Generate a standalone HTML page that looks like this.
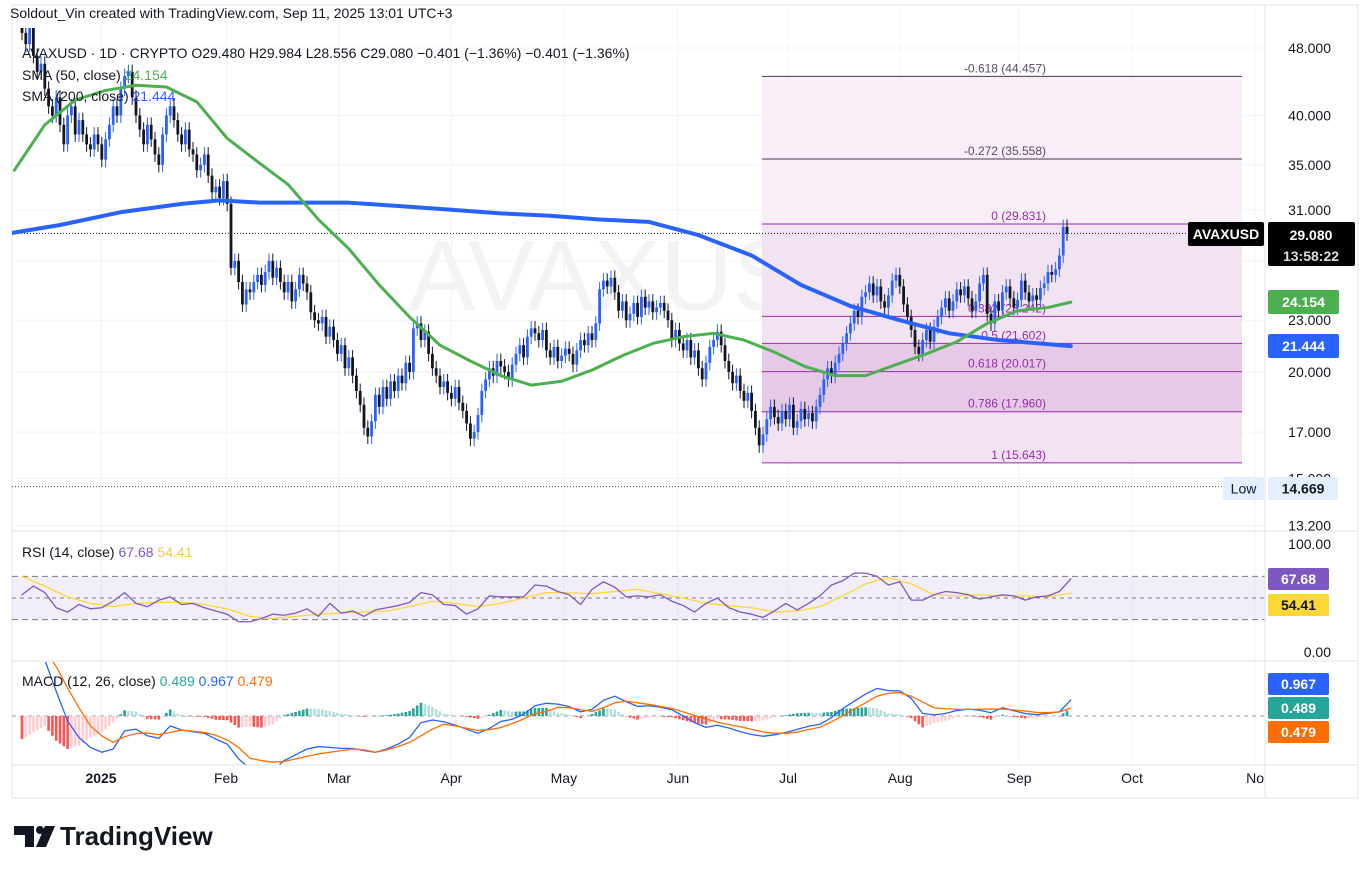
<!DOCTYPE html>
<html><head><meta charset="utf-8"><style>
html,body{margin:0;padding:0;background:#fff;width:1372px;height:874px;overflow:hidden;font-family:"Liberation Sans",sans-serif}
svg text{font-family:"Liberation Sans",sans-serif}
</style></head><body>
<svg id="c" width="1372" height="874" viewBox="0 0 1372 874" xmlns="http://www.w3.org/2000/svg">
<defs>
<clipPath id="pc"><rect x="12" y="28" width="1253" height="502"/></clipPath>
<clipPath id="rc"><rect x="12" y="535" width="1253" height="125"/></clipPath>
<clipPath id="mc"><rect x="12" y="662" width="1253" height="103"/></clipPath>
</defs>
<rect x="12" y="5" width="1346" height="793" fill="#fff" stroke="#e0e3eb"/>
<g id="grid"></g>
<text x="640" y="310" font-size="100" fill="#f2f3f5" text-anchor="middle">AVAXUSD</text>
<g id="fib"></g>
<g id="price" clip-path="url(#pc)"></g>
<g id="rsi" clip-path="url(#rc)"></g>
<g id="macd" clip-path="url(#mc)"></g>
<line x1="12" y1="531" x2="1358" y2="531" stroke="#e0e3eb"/>
<line x1="12" y1="661" x2="1358" y2="661" stroke="#e0e3eb"/>
<line x1="12" y1="765" x2="1358" y2="765" stroke="#e0e3eb"/>
<line x1="1265" y1="5" x2="1265" y2="798" stroke="#e0e3eb"/>
<g id="axis" font-size="14" fill="#131722"></g>
<g id="time" font-size="14" fill="#131722"></g>
<g id="tags" font-size="14" font-weight="bold"></g>
<text x="10" y="18" font-size="14" fill="#131722">Soldout_Vin created with TradingView.com, Sep 11, 2025 13:01 UTC+3</text>
<text x="22" y="58" font-size="14" fill="#131722">AVAXUSD · 1D · CRYPTO  O29.480  H29.984  L28.556  C29.080  −0.401 (−1.36%)  −0.401 (−1.36%)</text>
<text x="22" y="80" font-size="14" fill="#131722">SMA (50, close) <tspan fill="#4caf50">24.154</tspan></text>
<text x="22" y="101" font-size="14" fill="#131722">SMA (200, close) <tspan fill="#2962ff">21.444</tspan></text>
<text x="22" y="557" font-size="14" fill="#131722">RSI (14, close)  <tspan fill="#7e57c2">67.68</tspan>  <tspan fill="#f7c948">54.41</tspan></text>
<text x="22" y="686" font-size="14" fill="#131722">MACD (12, 26, close)  <tspan fill="#26a69a">0.489</tspan>  <tspan fill="#2962ff">0.967</tspan>  <tspan fill="#ff6d00">0.479</tspan></text>
<g>
<path d="M14 826h20v21h-9v-12h-11z" fill="#131722"/>
<circle cx="40" cy="830" r="4" fill="#131722"/>
<path d="M45 826h10l-9 21h-10z" fill="#131722"/>
<text x="60" y="845" font-size="26" font-weight="bold" fill="#131722">TradingView</text>
</g>
</svg>
<script>
const NS='http://www.w3.org/2000/svg';
const closes=[50,48.5,51,47,45,46,43,41,40,42,39,37,40,41,38,39.5,38,37,36.5,38,37,35.5,37.5,39,41,40,43,44.5,45,42,40,38.5,37,39,37.5,36,35,38,40,41,39.5,38,37,38.5,36.5,36,34.5,35,36,34,32.5,33,32,33.5,31.5,26.5,27,25.5,24,25,24.8,25.5,26,25.3,26.2,27,25.8,26.5,25.5,24.8,25.5,24.2,25,26,25.4,24.8,23.5,23,22.8,23.2,22,22.6,21.8,21,21.5,20.2,20.8,19.8,19,18.3,17.2,16.8,17.5,18.8,18.2,19.2,18.6,19.5,19,19.8,19.4,20.5,20,22.5,22.8,21.8,22.3,21,20.2,19.8,19.2,19.5,18.9,18.6,19.2,18.4,18,17.4,16.7,17,17.8,19,19.6,20.2,19.8,20.6,20.3,20,19.6,20.4,21,21.5,20.8,22,22.5,22.2,21.8,22.4,21.2,20.8,21.4,20.6,20.9,21.3,21,20.4,21.2,21.8,21.5,22.2,21.8,22.8,25,25.6,25.2,25.8,24.8,23.6,24.2,23,23.4,24.1,23.2,24.5,23.8,24.2,23.5,23.8,24.1,23.6,23,21.8,22.4,21.6,21.2,21.8,20.8,21.2,20.2,19.6,20.5,21.4,21.8,22.3,21.5,20.6,20,19.4,19.8,19,18.5,18.9,18,17.2,16.4,16.9,17.6,18.2,17.7,17.4,18,17.6,18.3,17.2,17.5,18.1,17.6,17.9,17.5,18.2,18.8,19.6,20.2,19.8,20.5,21,21.6,22.2,22.8,23.6,23.2,24.5,24.8,25.4,24.6,25.2,24.2,23.8,24.6,25.6,26,25.2,24,23.2,22.4,21.4,21,21.8,22.4,21.7,22.6,23.2,23.8,24.4,23.6,24.2,25,24.6,25.2,24.4,23.6,24.2,25.4,26,23.4,22.8,24.2,23.6,24.8,25.2,24.4,23.8,24.3,25.6,24.8,24.2,24.6,24.3,25.1,25.4,26.2,26,26.4,27.4,29.6,29.08];
const firstOpen=51;
const sma50=[34.5,39,41.7,42.8,43.4,43.2,41.5,37.6,35.3,33.2,30.2,27.9,25.3,23.2,21.5,20.6,19.8,19.3,19.5,20.1,20.9,21.6,22.0,22.2,21.8,21.1,20.3,19.8,19.8,20.4,21.0,21.7,22.8,23.6,23.8,24.154];
const sma50Idx=[-2,6,14,22,30,38,46,54,62,70,78,86,94,102,110,118,126,134,142,150,158,166,174,182,190,198,206,214,222,230,238,246,254,262,270,276];
const sma200=[29.1,29.75,30.8,31.5,31.8,31.6,31.6,31.6,31.3,31.0,30.7,30.5,30.2,30.0,28.95,27.4,25.3,23.9,23.0,22.2,21.8,21.6,21.444];
const sma200Idx=[-3,10,26,42,52,63,73,86,100,113,126,139,152,165,178,192,205,218,231,244,257,268,276];
const rsi=[53,61,55,41,37,44,40,41,47,55,45,42,48,51,44,45,41,38,35,28,28,31,35,34,36,40,33,45,36,38,33,39,41,43,46,55,53,44,43,35,40,52,51,51,51,62,61,56,53,44,58,65,60,51,52,51,53,47,43,37,45,50,41,37,35,32,38,45,39,45,52,62,66,73,73,70,62,65,48,48,53,56,55,53,49,51,53,52,48,51,52,56,67.68];
const rsiMa=[70,61,51,45,42,45,46,46,44,40,33,31,33,35,36,37,38,42,47,45,42,45,50,55,55,54,56,58,54,50,45,43,41,37,38,42,52,63,69,63,53,52,53,52,52,51,54.41];
const macdLine=[4.6,4.0,3.4,1.5,-0.3,-1.3,-1.9,-2.2,-2.0,-0.9,-0.8,-1.2,-1.35,-0.6,-0.85,-0.95,-1.05,-1.4,-1.7,-2.6,-3.2,-3.4,-3.3,-2.7,-2.35,-2.0,-1.86,-1.9,-1.96,-1.96,-2.1,-2.2,-2.0,-1.7,-1.3,-0.4,-0.24,-0.35,-0.55,-0.8,-1.05,-0.75,-0.33,-0.2,0.1,0.62,0.77,0.72,0.57,0.25,0.4,0.95,1.2,0.87,0.58,0.62,0.53,0.38,0.0,-0.4,-0.69,-0.56,-0.73,-0.95,-1.12,-1.23,-1.14,-1.0,-0.81,-0.62,-0.5,-0.1,0.45,0.9,1.33,1.67,1.54,1.52,1.07,0.16,0.07,0.15,0.33,0.42,0.35,0.2,0.5,0.32,0.15,0.08,0.16,0.25,0.967];
const signalLine=[6.0,5.0,4.0,3.0,1.7,0.5,-0.6,-1.2,-1.6,-1.25,-1.07,-1.03,-1.13,-1.0,-0.86,-0.92,-1.0,-1.17,-1.45,-1.9,-2.56,-2.7,-2.8,-2.75,-2.6,-2.45,-2.3,-2.2,-2.1,-2.0,-2.05,-2.2,-2.05,-1.85,-1.6,-1.2,-0.8,-0.5,-0.6,-0.74,-0.88,-0.83,-0.7,-0.46,-0.18,0.14,0.28,0.52,0.5,0.38,0.28,0.5,0.8,0.9,0.8,0.7,0.58,0.46,0.25,0.03,-0.18,-0.37,-0.52,-0.65,-0.8,-0.96,-1.05,-1.05,-0.98,-0.82,-0.68,-0.35,0.02,0.43,0.8,1.2,1.38,1.42,1.2,0.85,0.5,0.44,0.41,0.4,0.41,0.42,0.42,0.37,0.3,0.22,0.2,0.25,0.479];
const fibLevels=['-0.618','-0.272','0','0.382','0.5','0.618','0.786','1'];
const fibPrices=[44.457,35.558,29.831,23.242,21.602,20.017,17.960,15.643];
const priceTicks=[48,40,35,31,27,23,20,17,15,13.2];
const monthLabels=['2025','Feb','Mar','Apr','May','Jun','Jul','Aug','Sep','Oct','No'];
const monthDays=[20.8,53.7,83.4,113,142.6,172.6,201.6,231.1,262.4,292.1,324.5];

const X=i=>22+i*3.8;
const PY=p=>224-370*Math.log(p/29.831);
const RY=v=>652-v*1.08;
const MY=v=>716-v*16.5;
function el(t,a,parent){const e=document.createElementNS(NS,t);for(const k in a)e.setAttribute(k,a[k]);parent.appendChild(e);return e;}
const $=id=>document.getElementById(id);

const grid=$('grid');
monthDays.forEach(d=>{const l=el('line',{x1:X(d),y1:5,x2:X(d),y2:765,stroke:'#f0f3fa'},grid);

});
priceTicks.forEach(p=>{const l=el('line',{x1:12,y1:PY(p),x2:1265,y2:PY(p),stroke:'#f0f3fa'},grid);

});

const fib=$('fib');
const fx1=762,fx2=1242;
let r=el('rect',{x:fx1,y:PY(fibPrices[0]),width:fx2-fx1,height:PY(fibPrices[2])-PY(fibPrices[0]),fill:'#f7eef7'},fib);


r=el('rect',{x:fx1,y:PY(fibPrices[2]),width:fx2-fx1,height:PY(fibPrices[7])-PY(fibPrices[2]),fill:'#f2e3f2'},fib);


r=el('rect',{x:fx1,y:PY(fibPrices[4]),width:fx2-fx1,height:PY(fibPrices[6])-PY(fibPrices[4]),fill:'#e6c9e6'},fib);


fibLevels.forEach((lv,k)=>{const y=PY(fibPrices[k]);const col=k<2?'#4a3a50':'#9c27b0';
const l=el('line',{x1:fx1,y1:y,x2:fx2,y2:y,stroke:col,'stroke-width':1},fib);


const t=el('text',{x:1046,y:y-4,'font-size':12,fill:k<2?'#5d4a66':'#9c27b0','text-anchor':'end'},fib);
t.textContent=lv+' ('+fibPrices[k].toFixed(3)+')';

});

const pg=$('price');
let d=el('line',{x1:12,y1:PY(29.08),x2:1188,y2:PY(29.08),stroke:'#131722','stroke-dasharray':'1 2'},pg);


d=el('line',{x1:12,y1:PY(14.669),x2:1223,y2:PY(14.669),stroke:'#555','stroke-dasharray':'1 2'},pg);


function poly(vals,idx,fx,fy,attrs,parent,name){const pts=vals.map((v,k)=>fx(idx?idx[k]:k)+','+fy(v)).join(' ');
const p=el('polyline',Object.assign({points:pts,fill:'none','stroke-linejoin':'round','stroke-linecap':'round'},attrs),parent);

return p;}
closes.forEach((c,i)=>{const o=i?closes[i-1]:firstOpen;const up=c>=o;const col=up?'#2962ff':'#131722';
const hi=Math.max(o,c)*1.02,lo=Math.min(o,c)*0.98;const x=X(i);
const g=el('g',{},pg);


el('line',{x1:x,y1:PY(hi),x2:x,y2:PY(lo),stroke:col,'stroke-width':1},g);
const yt=PY(Math.max(o,c)),yb=PY(Math.min(o,c));
el('rect',{x:x-1.4,y:yt,width:2.8,height:Math.max(1,yb-yt),fill:col},g);});
poly(sma200,sma200Idx,X,PY,{stroke:'#2962ff','stroke-width':4},pg,'sma200-line');
poly(sma50,sma50Idx,X,PY,{stroke:'#4caf50','stroke-width':3},pg,'sma50-line');

const rg=$('rsi');
r=el('rect',{x:12,y:RY(70),width:1253,height:RY(30)-RY(70),fill:'#7e57c2','fill-opacity':0.1},rg);


[70,50,30].forEach(v=>{const l=el('line',{x1:12,y1:RY(v),x2:1265,y2:RY(v),stroke:'#787b86','stroke-dasharray':v==50?'4 4':'6 4'},rg);

});
const RX=k=>X(k*3);
poly(rsiMa,null,k=>X(k*6),RY,{stroke:'#fdd835','stroke-width':1.3},rg,'rsi-ma-line');
poly(rsi,null,RX,RY,{stroke:'#7e57c2','stroke-width':1.3},rg,'rsi-line');

const mg=$('macd');
d=el('line',{x1:12,y1:MY(0),x2:1265,y2:MY(0),stroke:'#9598a1','stroke-dasharray':'4 4'},mg);


function interp(arr,i){const f=i/3;const a=Math.floor(f),b=Math.min(arr.length-1,a+1);const t=f-a;return arr[a]*(1-t)+arr[b]*t;}
let prev=null;
for(let i=0;i<closes.length;i++){const h=interp(macdLine,i)-interp(signalLine,i);
let col;if(h>=0)col=(prev===null||h>=prev)?'#26a69a':'#b2dfdb';else col=(prev===null||h<=prev)?'#ff5252':'#ffcdd2';
prev=h;const y0=MY(0),y1=MY(h);
const b=el('rect',{x:X(i)-1.3,y:Math.min(y0,y1),width:2.6,height:Math.max(0.5,Math.abs(y1-y0)),fill:col},mg);

}
poly(macdLine,null,RX,MY,{stroke:'#2962ff','stroke-width':1.3},mg,'macd-line');
poly(signalLine,null,RX,MY,{stroke:'#ff6d00','stroke-width':1.3},mg,'signal-line');

const ax=$('axis');
priceTicks.forEach(p=>{const t=el('text',{x:1331,y:PY(p)+5,'text-anchor':'end'},ax);t.textContent=p.toFixed(3);

});
[['100.00',RY(100)],['0.00',RY(0)]].forEach(a=>{const t=el('text',{x:1331,y:a[1]+5,'text-anchor':'end'},ax);t.textContent=a[0];

});
const tm=$('time');
monthLabels.forEach((m,k)=>{const t=el('text',{x:X(monthDays[k]),y:783,'text-anchor':'middle','font-weight':k==0?'bold':'normal'},tm);t.textContent=m;

});

const tg=$('tags');
function tag(x,y,w,h,bg,fg,txt,name){const g=el('g',{},tg);


el('rect',{x:x,y:y,width:w,height:h,fill:bg,rx:2},g);
const t=el('text',{x:x+w/2,y:y+h/2+5,fill:fg,'text-anchor':'middle'},g);t.textContent=txt;return g;}
tag(1188,222,76,24,'#000','#fff','AVAXUSD','symbol-tag');
let g=tag(1268,222,87,44,'#000','#fff','','last-price-tag');
let t1=el('text',{x:1311,y:240,fill:'#fff','text-anchor':'middle'},g);t1.textContent='29.080';
let t2=el('text',{x:1311,y:261,fill:'#ddd','text-anchor':'middle'},g);t2.textContent='13:58:22';
tag(1268,290,71,24,'#4caf50','#fff','24.154','sma50-tag');
tag(1268,334,71,24,'#2962ff','#fff','21.444','sma200-tag');
g=tag(1223,477,41,23,'#e3effd','#131722','Low','low-label-tag');g.lastChild.setAttribute('font-weight','normal');
tag(1268,477,70,23,'#e3effd','#131722','14.669','low-price-tag');
tag(1268,568,61,22,'#7e57c2','#fff','67.68','rsi-tag');
tag(1268,594,61,22,'#fdd835','#131722','54.41','rsi-ma-tag');
tag(1268,673,61,22,'#2962ff','#fff','0.967','macd-tag');
tag(1268,697,61,22,'#26a69a','#fff','0.489','histogram-tag');
tag(1268,721,61,22,'#ff6d00','#fff','0.479','signal-tag');
</script>
</body></html>
